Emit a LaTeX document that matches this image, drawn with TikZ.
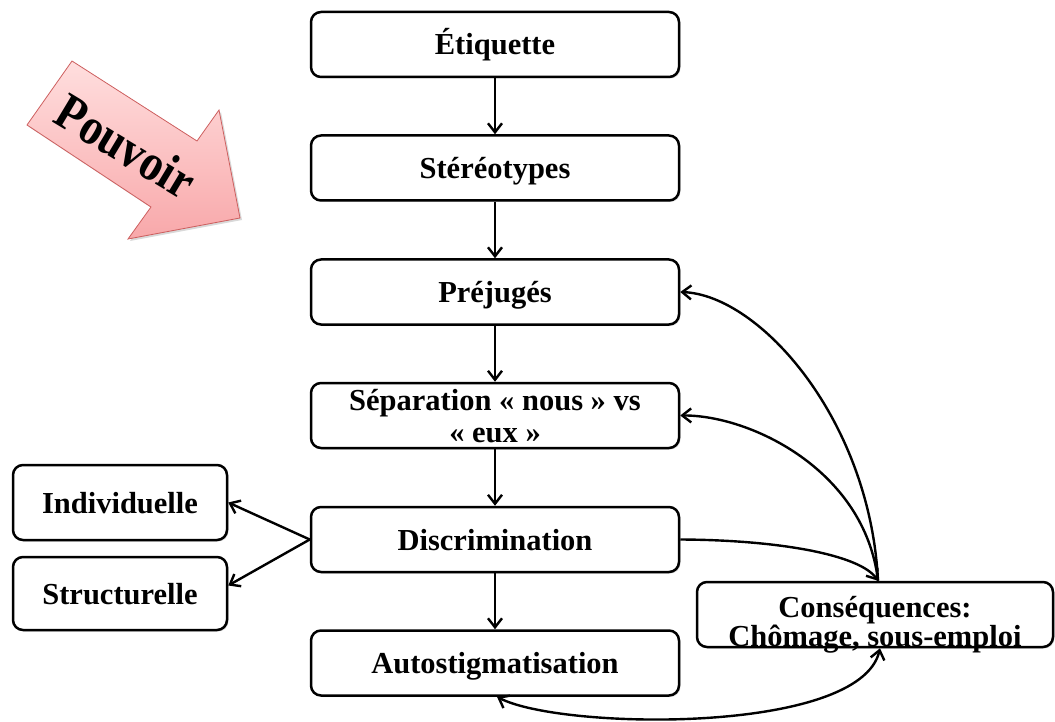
\documentclass[tikz,border=0pt]{standalone}
\usepackage{fontspec}
\setmainfont{Liberation Serif}
\usetikzlibrary{arrows.meta,shadows,calc}
\definecolor{pinkA}{RGB}{255,222,222}
\definecolor{pinkB}{RGB}{248,168,170}
\definecolor{pinkE}{RGB}{205,95,95}
\tikzset{Bb/.tip={Straight Barb[length=9pt,width=14pt,line width=2.4pt]}}
\begin{document}
\begin{tikzpicture}[x=1pt,y=-1pt,
 bx/.style={draw=black, line width=2.5pt, rounded corners=10pt, fill=white,
   minimum width=368pt, minimum height=65pt, inner sep=0pt,
   text height=21pt, text depth=0pt,
   font=\fontsize{30.5}{32}\selectfont\bfseries,
   drop shadow={opacity=0.25,shadow xshift=1.5pt,shadow yshift=-1.5pt}},
 con/.style={line width=2.4pt, -Bb}]
\useasboundingbox (0,0) rectangle (1055,722);
% Pouvoir arrow
\path[draw=pinkE, line width=0.8pt, top color=pinkA, bottom color=pinkB,
  drop shadow={opacity=0.3,shadow xshift=2pt,shadow yshift=-2pt}]
  (72,61) -- (197,141) -- (219,110) -- (240,218) -- (128,239) -- (151,207) -- (27,125) -- cycle;
\node[rotate=-31, yscale=1.15, font=\fontsize{45}{45}\selectfont\bfseries] (pou) at (126,146) {Pouvoir};
% boxes
\node[bx] (etq) at (495,44.5) {Étiquette};
\node[bx] (ste) at (495,168) {Stéréotypes};
\node[bx] (pre) at (495,292) {Préjugés};
\node[bx, text depth=32pt] (sep) at (495,415.5) {\parbox[t]{360pt}{\centering Séparation « nous » vs\\« eux »}};
\node[bx] (dis) at (495,539.5) {Discrimination};
\node[bx] (aut) at (495,663) {Autostigmatisation};
\node[bx, minimum width=214pt, minimum height=75pt] (ind) at (120,502.5) {Individuelle};
\node[bx, minimum width=214pt, minimum height=73pt] (str) at (120,593.5) {Structurelle};
\node[bx, minimum width=356pt, text depth=16pt] (cons) at (875,614.5) {\parbox[t]{350pt}{\centering\baselineskip=25pt Conséquences:\\Chômage, sous-emploi}};
% connectors
\draw[con] (etq.south) -- (ste.north);
\draw[con] (ste.south) -- (pre.north);
\draw[con] (pre.south) -- (sep.north);
\draw[con] (sep.south) -- (dis.north);
\draw[con] (dis.south) -- (aut.north);
\draw[con] (dis.west) -- (ind.east);
\draw[con] (dis.west) -- ([yshift=8pt]str.east);
\draw[con] ([xshift=3pt]cons.north) .. controls (870,420) and (760,295) .. (pre.east);
\draw[con] ([xshift=3pt]cons.north) .. controls (865,470) and (750,415) .. (sep.east);
\draw[con] (dis.east) .. controls (780,540) and (860,555) .. ([xshift=3pt]cons.north);
\draw[line width=2.4pt, Bb-Bb] ([xshift=5pt]cons.south) .. controls (860,735) and (560,730) .. ([xshift=2pt]aut.south);
\end{tikzpicture}
\end{document}
